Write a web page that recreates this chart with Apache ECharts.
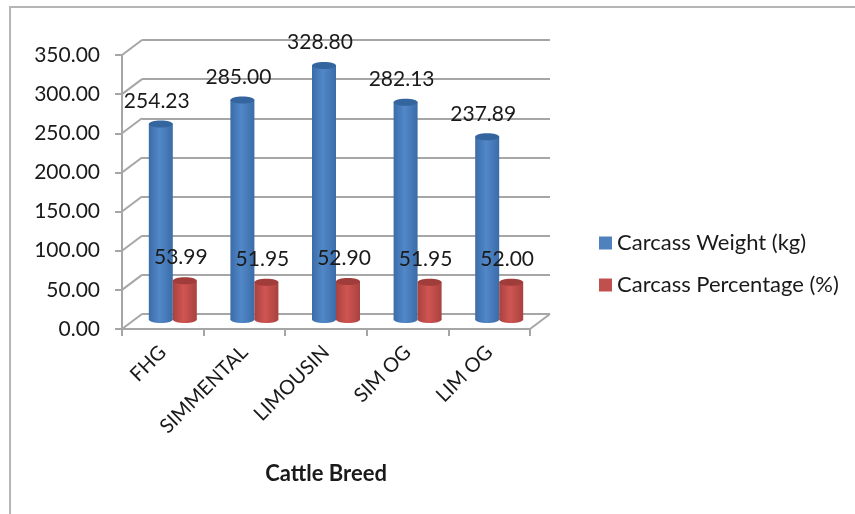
<!DOCTYPE html>
<html><head><meta charset="utf-8">
<style>html,body{margin:0;padding:0;background:#fff}#c{width:855px;height:514px}</style>
<script src="https://cdn.jsdelivr.net/npm/echarts@6/dist/echarts.min.js"></script>
</head><body><div id="c"></div>
<script>
const categories = ['FHG','SIMMENTAL','LIMOUSIN','SIM OG','LIM OG'];
const carcassWeight = [254.23,285.00,328.80,282.13,237.89];
const carcassPercentage = [53.99,51.95,52.90,51.95,52.00];
const yTicks = [0,50,100,150,200,250,300,350];

const FONT = 'Lato, Carlito, sans-serif';
const GRID_COLOR = '#a6a6a6';
const DEPTH = [20,-15];
const BAR_DX = 10, BAR_TOP_DY = -6, BAR_BASE_DY = -9.5;
const BAR_W = 24, RY = 3.5;

function cyl(side, topColor, dark, light, labelDx, labelDy){
  return function(params, api){
    const i = api.value(0), v = api.value(1);
    const top = api.coord([i, v]), bot = api.coord([i, 0]);
    const x0 = top[0] + BAR_DX + (side < 0 ? -BAR_W : 0);
    const yT = top[1] + BAR_TOP_DY, yB = bot[1] + BAR_BASE_DY;
    const grad = new echarts.graphic.LinearGradient(0,0,1,0,[
      {offset:0,color:dark},{offset:0.45,color:light},{offset:1,color:dark}]);
    const cx = x0 + BAR_W/2;
    return {type:'group',children:[
      {type:'ellipse',shape:{cx:cx,cy:yB,rx:BAR_W/2,ry:RY},style:{fill:grad}},
      {type:'rect',shape:{x:x0,y:yT,width:BAR_W,height:yB-yT},style:{fill:grad}},
      {type:'ellipse',shape:{cx:cx,cy:yT,rx:BAR_W/2,ry:RY},style:{fill:topColor}},
      {type:'text',z2:10,style:{x:cx+labelDx,y:yT+labelDy,text:v.toFixed(2),fill:'#1a1a1a',
        font:'21px '+FONT,align:'center',verticalAlign:'middle'}}
    ]};
  };
}

const option = {
  animation:false,
  backgroundColor:'#fff',
  graphic:[{type:'rect',silent:true,z:-1,shape:{x:10,y:7,width:900,height:600},
    style:{fill:'none',stroke:'#b5b5b5',lineWidth:2}}],
  legend:{left:594,top:227,orient:'vertical',itemWidth:13,itemHeight:13,itemGap:20,
    icon:'rect',textStyle:{fontFamily:FONT,fontSize:22,color:'#1a1a1a'},
    data:['Carcass Weight (kg)','Carcass Percentage (%)']},
  grid:[
    {left:122,right:325,top:55,bottom:185},
    {left:142,right:305,top:40,bottom:200}
  ],
  xAxis:[
    {type:'category',gridIndex:0,data:categories,
     axisLine:{lineStyle:{color:GRID_COLOR,width:2}},
     axisTick:{show:true,alignWithLabel:false,length:7,lineStyle:{color:GRID_COLOR,width:2}},
     axisLabel:{rotate:45,fontFamily:FONT,fontSize:20,color:'#1a1a1a',margin:20,interval:0},
     name:'Cattle Breed',nameLocation:'middle',nameGap:134,
     nameTextStyle:{fontFamily:FONT,fontSize:22,fontWeight:'bold',color:'#1a1a1a'}},
    {type:'category',gridIndex:1,data:categories,show:false}
  ],
  yAxis:[
    {type:'value',gridIndex:0,min:0,max:350,interval:50,
     axisLine:{show:true,lineStyle:{color:GRID_COLOR,width:2}},
     axisTick:{show:true,length:7,lineStyle:{color:GRID_COLOR,width:2}},
     splitLine:{show:false},
     axisLabel:{formatter:function(v){return v.toFixed(2);},fontFamily:FONT,fontSize:21,color:'#1a1a1a',margin:22}},
    {type:'value',gridIndex:1,min:0,max:350,interval:50,
     axisLine:{show:false},axisTick:{show:false},axisLabel:{show:false},
     splitLine:{show:true,lineStyle:{color:GRID_COLOR,width:2}}}
  ],
  series:[
    {type:'custom',name:'depth',xAxisIndex:0,yAxisIndex:0,silent:true,z:1,
     data:yTicks.map(function(t){return [0,t];}),
     renderItem:function(params,api){
       const y = api.coord([0,api.value(1)])[1], x = params.coordSys.x, w = params.coordSys.width;
       const ln = function(a){return {type:'line',shape:{x1:a,y1:y,x2:a+DEPTH[0],y2:y+DEPTH[1]},
         style:{stroke:GRID_COLOR,lineWidth:2}};};
       const kids=[ln(x)];
       if(api.value(1)===0) kids.push(ln(x+w));
       return {type:'group',children:kids};
     }},
    {type:'custom',name:'Carcass Weight (kg)',xAxisIndex:0,yAxisIndex:0,z:3,
     itemStyle:{color:'#4f81bd'},encode:{x:0,y:1},
     data:carcassWeight.map(function(v,i){return [i,v];}),
     renderItem:cyl(-1,'#34659f','#3a6ca8','#5288c8',-4,-23)},
    {type:'custom',name:'Carcass Percentage (%)',xAxisIndex:0,yAxisIndex:0,z:4,
     itemStyle:{color:'#c0504d'},encode:{x:0,y:1},
     data:carcassPercentage.map(function(v,i){return [i,v];}),
     renderItem:cyl(1,'#a03c3a','#a8423f','#d05552',-4,-23)}
  ]
};
echarts.init(document.getElementById('c')).setOption(option);
</script></body></html>
